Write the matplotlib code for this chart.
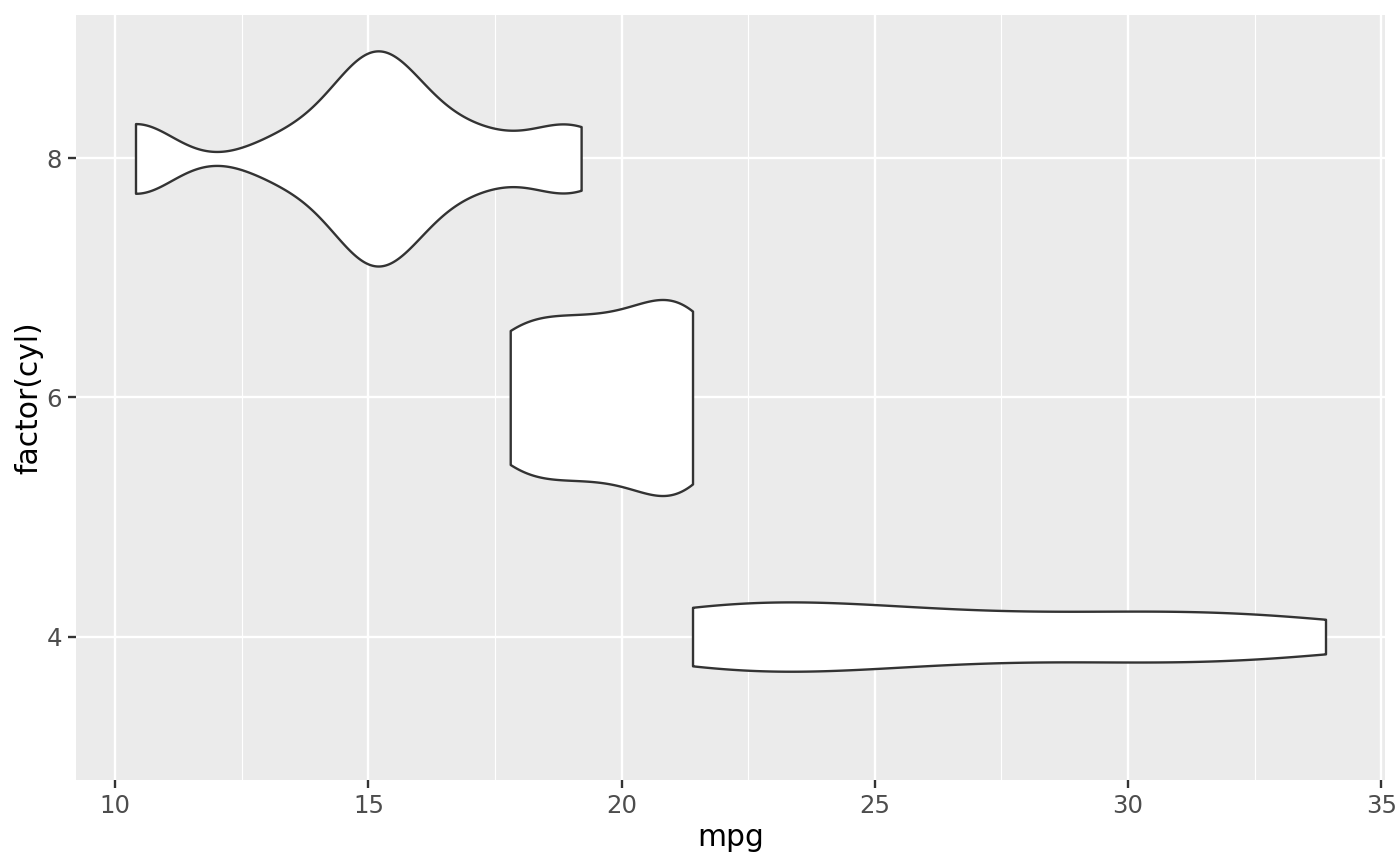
import numpy as np
import matplotlib.pyplot as plt

# mtcars mpg split by cylinder count
mpg_4 = [22.8, 24.4, 22.8, 32.4, 30.4, 33.9, 21.5, 27.3, 26.0, 30.4, 21.4]
mpg_6 = [21.0, 21.0, 21.4, 18.1, 19.2, 17.8, 19.7]
mpg_8 = [18.7, 14.3, 16.4, 17.3, 15.2, 10.4, 10.4, 14.7, 15.5, 15.2, 13.3,
         19.2, 15.8, 15.0]
cyl = [4, 6, 8]
# max violin widths (area scaling)
vwidths = [0.58, 1.64, 1.80]
x_ticks = [10, 15, 20, 25, 30, 35]


def nrd0(kde):
    # R's default bandwidth, as a factor of the sample sd
    d = kde.dataset.ravel()
    sd = np.std(d, ddof=1)
    iqr = np.subtract(*np.percentile(d, [75, 25]))
    bw = 0.9 * min(sd, iqr / 1.34) * len(d) ** -0.2
    return bw / sd


lw = 0.85
fig = plt.figure(figsize=(7, 4.33), dpi=200)
ax = fig.add_axes([76 / 1400, 1 - 780 / 866, (1385 - 76) / 1400, (780 - 15) / 866])
ax.set_facecolor('#EBEBEB')

parts = ax.violinplot([mpg_4, mpg_6, mpg_8], positions=cyl, widths=vwidths,
                      orientation='horizontal', showextrema=False,
                      bw_method=nrd0, points=512)
for b in parts['bodies']:
    b.set_facecolor('white')
    b.set_edgecolor('#333333')
    b.set_alpha(1)
    b.set_linewidth(lw)
    b.set_zorder(3)

ax.set_xlim(9.225, 35.075)
ax.set_ylim(2.8, 9.2)
ax.set_xticks(x_ticks)
ax.set_xticks([12.5, 17.5, 22.5, 27.5, 32.5], minor=True)
ax.set_yticks(cyl)
ax.set_yticklabels([str(c) for c in cyl])
ax.grid(which='major', color='white', linewidth=lw)
ax.grid(which='minor', axis='x', color='white', linewidth=lw / 2)
ax.set_axisbelow(True)
for s in ax.spines.values():
    s.set_visible(False)
ax.tick_params(which='major', length=2.75, width=lw, color='#333333',
               labelcolor='#4D4D4D', labelsize=8.8, pad=2.2)
ax.tick_params(which='minor', length=0)
ax.set_xlabel('mpg', fontsize=10.7, labelpad=2)
ax.set_ylabel('factor(cyl)', fontsize=10.7, labelpad=1.2)

fig.savefig('out.png', dpi=200)
